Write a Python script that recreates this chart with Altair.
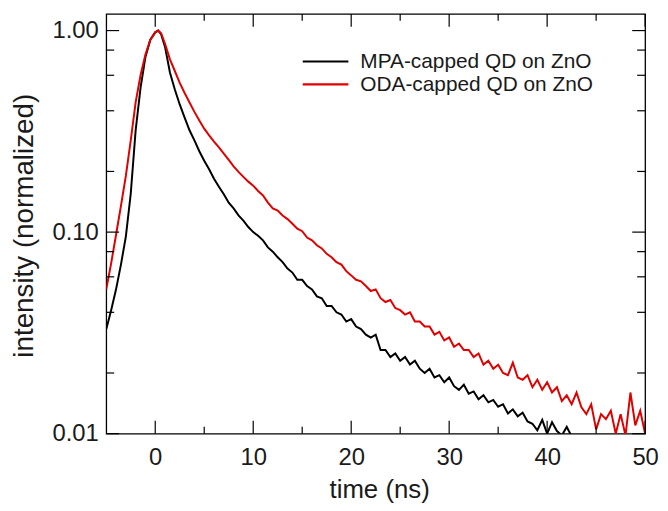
import altair as alt
import pandas as pd

# ---- data ----
time_mpa = [-5.0, -4.5, -4.0, -3.5, -3.0, -2.5, -2.0, -1.5, -1.0, -0.5, 0.0, 0.3, 0.6, 1.0, 1.5,
            2.0, 2.5, 3.0, 3.5, 4.0, 4.5, 5.0, 5.5, 6.0, 6.5, 7.0, 7.5, 8.0, 8.5, 9.0, 9.5,
            10.0, 10.5, 11.0, 11.5, 12.0, 12.5, 13.0, 13.5, 14.0, 14.5, 15.0, 15.5, 16.0, 16.5,
            17.0, 17.5, 18.0, 18.5, 19.0, 19.5, 20.0, 20.5, 21.0, 21.5, 22.0, 22.5, 23.0, 23.5,
            24.0, 24.5, 25.0, 25.5, 26.0, 26.5, 27.0, 27.5, 28.0, 28.5, 29.0, 29.5, 30.0, 30.5,
            31.0, 31.5, 32.0, 32.5, 33.0, 33.5, 34.0, 34.5, 35.0, 35.5, 36.0, 36.5, 37.0, 37.5,
            38.0, 38.5, 39.0, 39.5, 40.0, 40.5, 41.0, 41.5, 42.0, 42.5]
int_mpa = [0.033, 0.041, 0.052, 0.069, 0.095, 0.155, 0.32, 0.52, 0.74, 0.90, 0.98, 1.00, 0.96, 0.83, 0.62,
           0.51, 0.43, 0.37, 0.32, 0.285, 0.252, 0.226, 0.205, 0.184, 0.168, 0.154, 0.140, 0.131, 0.121, 0.114, 0.106,
           0.100, 0.096, 0.091, 0.084, 0.080, 0.075, 0.071, 0.066, 0.063, 0.058, 0.058, 0.054, 0.052, 0.048,
           0.047, 0.043, 0.043, 0.040, 0.039, 0.036, 0.037, 0.034, 0.033, 0.031, 0.030, 0.031, 0.026, 0.026,
           0.024, 0.025, 0.023, 0.024, 0.022, 0.023, 0.021, 0.020, 0.021, 0.019, 0.0195, 0.018, 0.019, 0.0172,
           0.0165, 0.0175, 0.0158, 0.0162, 0.0148, 0.0155, 0.0143, 0.0147, 0.0136, 0.0140, 0.0126, 0.0132, 0.0122, 0.0127,
           0.0115, 0.0112, 0.0104, 0.0117, 0.0100, 0.0114, 0.0103, 0.0098, 0.0108, 0.0097]

time_oda = [-5.0, -4.5, -4.0, -3.5, -3.0, -2.5, -2.0, -1.5, -1.0, -0.5, 0.0, 0.3, 0.6, 1.0, 1.5,
            2.0, 2.5, 3.0, 3.5, 4.0, 4.5, 5.0, 5.5, 6.0, 6.5, 7.0, 7.5, 8.0, 8.5, 9.0, 9.5,
            10.0, 10.5, 11.0, 11.5, 12.0, 12.5, 13.0, 13.5, 14.0, 14.5, 15.0, 15.5, 16.0, 16.5,
            17.0, 17.5, 18.0, 18.5, 19.0, 19.5, 20.0, 20.5, 21.0, 21.5, 22.0, 22.5, 23.0, 23.5,
            24.0, 24.5, 25.0, 25.5, 26.0, 26.5, 27.0, 27.5, 28.0, 28.5, 29.0, 29.5, 30.0, 30.5,
            31.0, 31.5, 32.0, 32.5, 33.0, 33.5, 34.0, 34.5, 35.0, 35.5, 36.0, 36.5, 37.0, 37.5,
            38.0, 38.5, 39.0, 39.5, 40.0, 40.5, 41.0, 41.5, 42.0, 42.5, 43.0, 43.5, 44.0, 44.5,
            45.0, 45.5, 46.0, 46.5, 47.0, 47.5, 48.0, 48.5, 49.0, 49.5, 50.0]
int_oda = [0.052, 0.070, 0.097, 0.135, 0.190, 0.285, 0.44, 0.60, 0.76, 0.90, 0.98, 1.00, 0.97, 0.86, 0.72,
           0.63, 0.55, 0.49, 0.44, 0.395, 0.358, 0.326, 0.302, 0.281, 0.263, 0.245, 0.228, 0.212, 0.199, 0.188, 0.178,
           0.170, 0.160, 0.152, 0.140, 0.131, 0.128, 0.121, 0.116, 0.110, 0.104, 0.101, 0.094, 0.091, 0.086,
           0.083, 0.078, 0.075, 0.071, 0.069, 0.064, 0.061, 0.058, 0.057, 0.054, 0.051, 0.052, 0.047, 0.045,
           0.046, 0.042, 0.041, 0.039, 0.040, 0.036, 0.036, 0.034, 0.034, 0.031, 0.032, 0.029, 0.030, 0.027,
           0.028, 0.026, 0.026, 0.024, 0.025, 0.022, 0.023, 0.021, 0.022, 0.020, 0.0195, 0.0225, 0.019, 0.0185,
           0.0195, 0.017, 0.0185, 0.0165, 0.018, 0.016, 0.017, 0.0145, 0.0155, 0.0140, 0.0160, 0.0135, 0.0125, 0.0140,
           0.0105, 0.0125, 0.0118, 0.0130, 0.0100, 0.0125, 0.0098, 0.0160, 0.0110, 0.0130, 0.0100]

series_names = ["MPA-capped QD on ZnO", "ODA-capped QD on ZnO"]
series_colors = ["#000000", "#e00000"]

x_major = [0, 10, 20, 30, 40, 50]
x_minor = [5, 15, 25, 35, 45]
y_major = [0.01, 0.1, 1.0]
y_minor = [0.02, 0.04, 0.06, 0.08, 0.2, 0.4, 0.6, 0.8]

# ---- layout ----
W, H = 543, 423
FONT = "Liberation Sans"
TXT = "#1a1a1a"

df = pd.concat([
    pd.DataFrame({"t": time_mpa, "I": int_mpa, "s": series_names[0]}),
    pd.DataFrame({"t": time_oda, "I": int_oda, "s": series_names[1]}),
])

xscale = alt.Scale(domain=[-5, 50], nice=False, zero=False)
yscale = alt.Scale(type="log", domain=[0.01, 1.21], nice=False)

lines = alt.Chart(df).mark_line(strokeWidth=2, clip=True).encode(
    x=alt.X("t:Q", scale=xscale,
            axis=alt.Axis(values=x_major, ticks=False, domain=False, grid=False, labelFlush=False,
                          labelOverlap=False, labelBound=False,
                          labelFontSize=24, labelPadding=12, labelFont=FONT, labelColor=TXT,
                          title="time (ns)", titleFontSize=26, titleFont=FONT, titleFontWeight="normal",
                          titleX=275, titleY=56, titleBaseline="middle", titleColor=TXT)),
    y=alt.Y("I:Q", scale=yscale,
            axis=alt.Axis(values=y_major, format=".2f", ticks=False, domain=False, grid=False,
                          labelFlush=False, labelOverlap=False, labelBound=False,
                          labelFontSize=24, labelPadding=8, labelFont=FONT, labelColor=TXT,
                          title="intensity (normalized)", titleFontSize=28, titleFont=FONT,
                          titleFontWeight="normal", titleX=-82, titleY=213, titleAngle=-90,
                          titleAlign="center", titleBaseline="middle", titleColor=TXT)),
    color=alt.Color("s:N", scale=alt.Scale(domain=series_names, range=series_colors), legend=None),
    detail="s:N",
)

def xticks(vals, length):
    d = pd.DataFrame({"t": vals})
    bot = alt.Chart(d).mark_rule(color="black", strokeWidth=1.2).encode(
        x=alt.X("t:Q", scale=xscale), y=alt.value(H), y2=alt.value(H - length))
    top = alt.Chart(d).mark_rule(color="black", strokeWidth=1.2).encode(
        x=alt.X("t:Q", scale=xscale), y=alt.value(0), y2=alt.value(length))
    return [bot, top]

def yticks(vals, length):
    d = pd.DataFrame({"I": vals})
    left = alt.Chart(d).mark_rule(color="black", strokeWidth=1.2).encode(
        y=alt.Y("I:Q", scale=yscale), x=alt.value(0), x2=alt.value(length))
    right = alt.Chart(d).mark_rule(color="black", strokeWidth=1.2).encode(
        y=alt.Y("I:Q", scale=yscale), x=alt.value(W), x2=alt.value(W - length))
    return [left, right]

tick_layers = xticks(x_major, 13) + xticks(x_minor, 7) + yticks(y_major, 13) + yticks(y_minor, 8)

one = pd.DataFrame({"k": [0]})
legend_layers = []
for i, (name, col) in enumerate(zip(series_names, series_colors)):
    yy = 48 + 23 * i
    legend_layers.append(alt.Chart(one).mark_rule(color=col, strokeWidth=2.2).encode(
        x=alt.value(198), x2=alt.value(244), y=alt.value(yy)))
    legend_layers.append(alt.Chart(one).mark_text(
        align="left", baseline="middle", fontSize=21, font=FONT, color=TXT).encode(
        x=alt.value(256), y=alt.value(yy + 1), text=alt.value(name)))

chart = alt.layer(lines, *tick_layers, *legend_layers).properties(
    width=W, height=H,
    autosize=alt.AutoSizeParams(type="none"),
    padding={"left": 99, "top": 4, "right": 15, "bottom": 75},
    background="white",
).configure_view(stroke="black", strokeWidth=1.3)

chart.save("out.html", embed_options={"renderer": "svg", "actions": False})
